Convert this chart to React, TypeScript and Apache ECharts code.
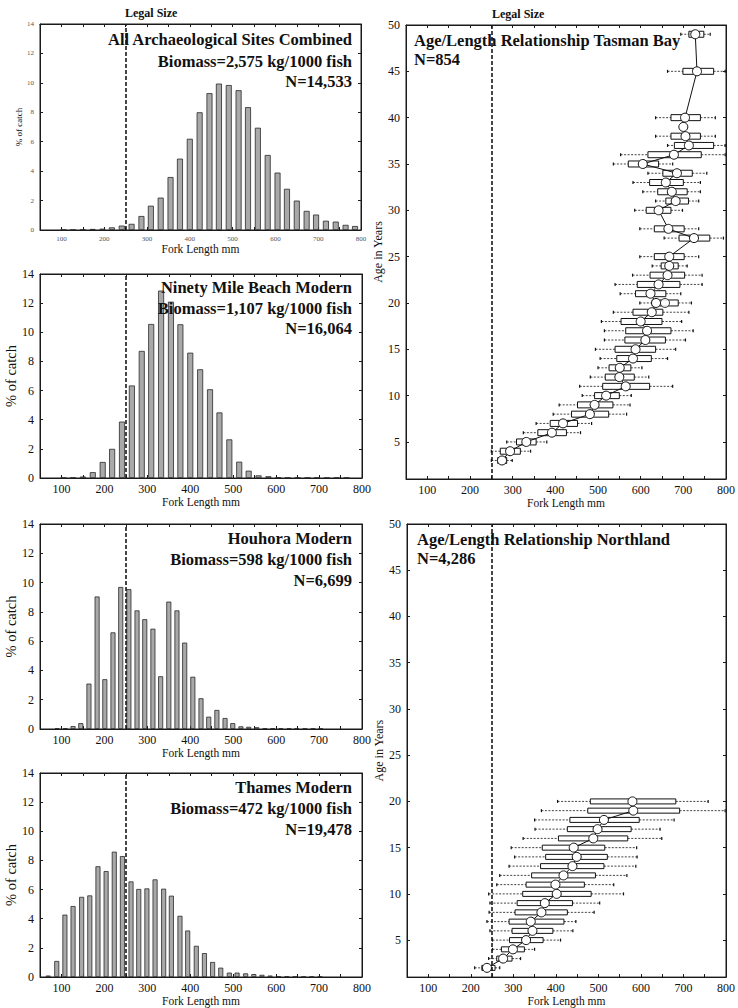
import React, { useEffect, useRef } from "react";
import * as echarts from "echarts";

const FONT = '"Liberation Serif", "Times New Roman", serif';

// ---------- axis tick / label values ----------
const xLabelValues = [100, 200, 300, 400, 500, 600, 700, 800];
const xTickValues = [50, 100, 150, 200, 250, 300, 350, 400, 450, 500, 550, 600, 650, 700, 750, 800];
const ageLabelValues = [5, 10, 15, 20, 25, 30, 35, 40, 45, 50];
const LEGAL_SIZE = 250;

// ---------- histogram data (fork length bin centre mm, % of catch) ----------
const archLengths = [105, 127, 150, 173, 196, 218, 241, 264, 287, 309, 332, 355, 377, 400, 423, 446, 468, 491, 514, 536, 559, 582, 605, 627, 650, 673, 695, 718, 741, 764, 786];
const archPct = [0.02, 0.02, 0.03, 0.07, 0.09, 0.18, 0.3, 0.42, 0.95, 1.65, 2.2, 3.6, 4.85, 6.2, 8.0, 9.3, 9.95, 9.85, 9.5, 8.35, 6.95, 5.1, 3.9, 2.8, 2.0, 1.3, 1.05, 0.63, 0.57, 0.35, 0.27];

const ninetyLengths = [105, 127, 150, 173, 196, 218, 241, 264, 287, 309, 332, 355, 377, 400, 423, 446, 468, 491, 514, 536, 559, 582, 605, 627, 650, 673, 695, 718, 741, 764];
const ninetyPct = [0.02, 0.03, 0.1, 0.4, 1.1, 2.0, 3.87, 6.35, 8.72, 10.57, 12.86, 12.1, 10.55, 8.6, 7.46, 6.09, 4.5, 2.65, 1.12, 0.5, 0.18, 0.12, 0.06, 0.03, 0.02, 0.02, 0.02, 0.02, 0.02, 0.02];

const houhoraLengths = [90, 109, 127, 145, 164, 183, 201, 220, 238, 257, 276, 294, 313, 331, 350, 369, 387, 406, 425, 443, 462, 481, 499, 518, 536, 555, 574, 592, 611, 630, 648, 667, 686, 704];
const houhoraPct = [0.05, 0.05, 0.2, 0.4, 3.1, 9.05, 3.4, 6.6, 9.7, 9.55, 8.1, 7.5, 6.85, 3.6, 8.7, 8.1, 5.9, 3.57, 2.1, 0.84, 1.3, 0.75, 0.4, 0.18, 0.15, 0.12, 0.06, 0.05, 0.05, 0.05, 0.04, 0.04, 0.04, 0.04];

const thamesLengths = [69, 89, 108, 127, 147, 166, 185, 204, 223, 242, 262, 280, 299, 318, 338, 356, 376, 394, 414, 433, 452, 471, 491, 509, 529, 548, 567, 586, 606, 625, 644, 664, 683, 702];
const thamesPct = [0.1, 1.1, 4.28, 4.87, 5.5, 5.6, 7.6, 7.27, 8.6, 8.3, 6.56, 6.04, 6.08, 6.7, 6.06, 5.58, 4.2, 3.19, 2.14, 1.64, 1.03, 0.64, 0.3, 0.3, 0.25, 0.2, 0.15, 0.1, 0.05, 0.04, 0.03, 0.03, 0.03, 0.03];

// ---------- age / length box data ----------
const tasmanAge = [3, 4, 5, 6, 7, 8, 9, 10, 11, 12, 13, 14, 15, 16, 17, 18, 19, 20, 21, 22, 23, 24, 25, 27, 28, 30, 31, 32, 33, 34, 35, 36, 37, 38, 39, 40, 45, 49];
const tasmanMedian = [275, 294, 332, 392, 418, 481, 492, 519, 565, 550, 551, 582, 588, 611, 615, 600, 626, 636, 623, 642, 663, 667, 667, 725, 665, 642, 682, 673, 659, 685, 605, 678, 713, 705, 700, 704, 732, 728];
const tasmanQ1 = [265, 271, 309, 359, 388, 438, 452, 492, 511, 517, 526, 544, 540, 563, 565, 554, 582, 627, 588, 592, 622, 648, 632, 690, 632, 613, 659, 640, 621, 652, 571, 617, 679, 671, null, 671, 699, 713];
const tasmanQ3 = [286, 318, 355, 426, 452, 525, 535, 550, 621, 585, 577, 625, 635, 658, 671, 650, 652, 688, 659, 692, 703, 688, 702, 762, 702, 671, 712, 709, 700, 721, 642, 742, 771, 740, null, 740, 771, 748];
const tasmanLow = [250, 250, 286, 325, 355, 395, 409, 463, 457, 482, 500, 505, 494, 515, 515, 508, 536, 598, 552, 540, 581, 627, 598, 655, 598, 586, 635, 605, 582, 617, 536, 553, 663, 635, null, 635, 663, 694];
const tasmanHigh = [299, 342, 380, 459, 485, 567, 575, 578, 675, 619, 603, 663, 682, 705, 723, 696, 713, 719, 694, 744, 744, 709, 736, 794, 736, 698, 736, 740, 740, 755, 675, 798, 798, 775, null, 775, 798, 763];
const tasmanExtraLength = [657];
const tasmanExtraAge = [20];

const northAge = [2, 3, 4, 5, 6, 7, 8, 9, 10, 11, 12, 13, 14, 15, 16, 17, 18, 19, 20];
const northMedian = [238, 276, 299, 330, 345, 341, 366, 374, 402, 399, 418, 439, 449, 442, 488, 498, 513, 582, 580];
const northQ1 = [226, 261, 272, 291, 297, 290, 304, 309, 322, 330, 343, 364, 376, 368, 406, 427, 433, 475, 481];
const northQ3 = [257, 297, 326, 370, 393, 419, 427, 439, 483, 467, 493, 513, 521, 515, 569, 577, 596, 691, 682];
const northLow = [209, 242, 251, 251, 245, 238, 243, 245, 242, 261, 268, 290, 303, 295, 323, 351, 350, 366, 404];
const northHigh = [268, 317, 350, 411, 440, 447, 490, 503, 559, 536, 567, 588, 591, 590, 649, 645, 678, 798, 758];

// ---------- texts ----------
const archTitle = ["All Archaeological Sites Combined", "Biomass=2,575 kg/1000 fish", "N=14,533"];
const ninetyTitle = ["Ninety Mile Beach Modern", "Biomass=1,107 kg/1000 fish", "N=16,064"];
const houhoraTitle = ["Houhora Modern", "Biomass=598 kg/1000 fish", "N=6,699"];
const thamesTitle = ["Thames Modern", "Biomass=472 kg/1000 fish", "N=19,478"];
const tasmanTitle = ["Age/Length Relationship Tasman Bay", "N=854"];
const northTitle = ["Age/Length Relationship Northland", "N=4,286"];

const histPanels = [
  { lengths: archLengths, pct: archPct, grid: { left: 40, top: 24, width: 321, height: 206 }, small: true, barWidth: 6, xNameGap: 12, yNameGap: 13, title: archTitle, titleX: 352, titleY: [39.4, 61.4, 81.4] },
  { lengths: ninetyLengths, pct: ninetyPct, grid: { left: 40, top: 274, width: 322, height: 204 }, small: false, barWidth: 6, xNameGap: 18, yNameGap: 20, title: ninetyTitle, titleX: 352, titleY: [287.4, 308.4, 328.4] },
  { lengths: houhoraLengths, pct: houhoraPct, grid: { left: 40, top: 524, width: 322, height: 205 }, small: false, barWidth: 5, xNameGap: 18, yNameGap: 20, title: houhoraTitle, titleX: 352, titleY: [538.4, 559.4, 580.4] },
  { lengths: thamesLengths, pct: thamesPct, grid: { left: 40, top: 773, width: 322, height: 205 }, small: false, barWidth: 5, xNameGap: 18, yNameGap: 20, title: thamesTitle, titleX: 352, titleY: [787.4, 808.4, 829.4] },
];

const agePanels = [
  { age: tasmanAge, median: tasmanMedian, q1: tasmanQ1, q3: tasmanQ3, low: tasmanLow, high: tasmanHigh, extraL: tasmanExtraLength, extraA: tasmanExtraAge, grid: { left: 406, top: 25, width: 325, height: 454 }, boxH: 6, title: tasmanTitle, titleX: 414, titleY: [40.4, 59.4] },
  { age: northAge, median: northMedian, q1: northQ1, q3: northQ3, low: northLow, high: northHigh, extraL: [], extraA: [], grid: { left: 407, top: 524, width: 325, height: 455 }, boxH: 5, title: northTitle, titleX: 417, titleY: [539.4, 558.4] },
];

const legalLabels = [
  { x: 125, y: 13.3 },
  { x: 492, y: 14 },
];

const LINE = "#1a1a1a";

function legalMarkLine() {
  return {
    silent: true,
    symbol: "none",
    animation: false,
    label: { show: false },
    lineStyle: { type: [4, 2], color: LINE, width: 1.6 },
    data: [{ xAxis: LEGAL_SIZE }],
  };
}

function buildOption() {
  const grid: any[] = [];
  const xAxis: any[] = [];
  const yAxis: any[] = [];
  const series: any[] = [];
  const graphic: any[] = [];

  const axisLine = { show: true, onZero: false, lineStyle: { color: LINE, width: 1 } };

  const addFrameAxes = (gi: number, fs: number, lblColor: string, xGap: number, yName: string, yGap: number, yNameSize: number, yMin: number, yMax: number, yInterval: number | null, yLabels: number[] | null, xNameSize: number) => {
    xAxis.push({
      gridIndex: gi, type: "value", min: 50, max: 800, position: "bottom",
      name: "Fork Length mm", nameLocation: "middle", nameGap: xGap,
      nameTextStyle: { fontFamily: FONT, fontSize: xNameSize, color: "#111" },
      axisLine, axisTick: { show: true, inside: true, length: 3, customValues: xTickValues, lineStyle: { color: LINE } },
      axisLabel: { customValues: xLabelValues, fontFamily: FONT, fontSize: fs, color: lblColor, margin: 5 },
      splitLine: { show: false },
    });
    xAxis.push({
      gridIndex: gi, type: "value", min: 50, max: 800, position: "top",
      axisLine, axisTick: { show: true, inside: true, length: 3, customValues: xTickValues, lineStyle: { color: LINE } },
      axisLabel: { show: false }, splitLine: { show: false },
    });
    const yBase: any = {
      gridIndex: gi, type: "value", min: yMin, max: yMax,
      axisLine, splitLine: { show: false },
    };
    if (yInterval) yBase.interval = yInterval;
    const tick: any = { show: true, inside: true, length: 3, lineStyle: { color: LINE } };
    const lbl: any = { fontFamily: FONT, fontSize: fs, color: lblColor, margin: 6 };
    if (yLabels) { tick.customValues = yLabels; lbl.customValues = yLabels; }
    yAxis.push({
      ...yBase, position: "left", name: yName, nameLocation: "middle", nameGap: yGap,
      nameTextStyle: { fontFamily: FONT, fontSize: yNameSize, color: "#111" },
      axisTick: tick, axisLabel: lbl,
    });
    yAxis.push({ ...yBase, position: "right", axisTick: tick, axisLabel: { show: false } });
  };

  histPanels.forEach((p, i) => {
    grid.push({ ...p.grid, show: true, borderColor: LINE, borderWidth: 1, backgroundColor: "#fff" });
    const fs = p.small ? 7 : 12;
    const col = p.small ? "#555" : "#111";
    addFrameAxes(i, fs, col, p.xNameGap, "% of catch", p.yNameGap, p.small ? 9 : 14.5, 0, 14, 2, null, 11.5);
    series.push({
      type: "bar", xAxisIndex: 2 * i, yAxisIndex: 2 * i,
      data: p.lengths.map((l, k) => [l, p.pct[k]]),
      barWidth: p.barWidth,
      itemStyle: { color: "#a9a9a9", borderColor: "#2a2a2a", borderWidth: 0.8 },
      markLine: legalMarkLine(),
      z: 2,
    });
    p.title.forEach((t, k) => {
      graphic.push({
        type: "text", x: p.titleX, y: p.titleY[k], z: 10,
        style: { text: t, fontFamily: FONT, fontWeight: "bold", fontSize: 16.5, fill: "#111", align: "right", verticalAlign: "middle", textAlign: "right", textVerticalAlign: "middle" },
      });
    });
  });

  agePanels.forEach((p, j) => {
    const gi = histPanels.length + j;
    grid.push({ ...p.grid, show: true, borderColor: LINE, borderWidth: 1, backgroundColor: "#fff" });
    addFrameAxes(gi, 12, "#111", 15, "Age in Years", 22, 12, 1, 50, null, ageLabelValues, 11.5);
    const boxData: any[] = [];
    p.age.forEach((a, k) => {
      if (p.q1[k] != null) boxData.push([a, p.q1[k], p.q3[k], p.low[k], p.high[k]]);
    });
    const bh = p.boxH;
    series.push({
      type: "custom", coordinateSystem: "cartesian2d", xAxisIndex: 2 * gi, yAxisIndex: 2 * gi,
      data: boxData, encode: { x: [1, 2, 3, 4], y: 0 }, z: 2,
      renderItem: (params: any, api: any) => {
        const age = api.value(0);
        const q1 = api.coord([api.value(1), age]);
        const q3 = api.coord([api.value(2), age]);
        const lo = api.coord([api.value(3), age]);
        const hi = api.coord([api.value(4), age]);
        const y = q1[1];
        const wStyle = { stroke: "#444", lineWidth: 1, lineDash: [2, 1.5] };
        const cStyle = { stroke: "#111", lineWidth: 1.2 };
        return {
          type: "group",
          children: [
            { type: "line", shape: { x1: lo[0], y1: y, x2: q1[0], y2: y }, style: wStyle },
            { type: "line", shape: { x1: q3[0], y1: y, x2: hi[0], y2: y }, style: wStyle },
            { type: "line", shape: { x1: lo[0], y1: y - 1.5, x2: lo[0], y2: y + 1.5 }, style: cStyle },
            { type: "line", shape: { x1: hi[0], y1: y - 1.5, x2: hi[0], y2: y + 1.5 }, style: cStyle },
            { type: "rect", shape: { x: q1[0], y: y - bh / 2, width: q3[0] - q1[0], height: bh }, style: { fill: "#fff", stroke: "#111", lineWidth: 1 } },
          ],
        };
      },
    });
    series.push({
      type: "line", xAxisIndex: 2 * gi, yAxisIndex: 2 * gi,
      data: p.age.map((a, k) => [p.median[k], a]),
      symbol: "circle", symbolSize: 9, showSymbol: true,
      lineStyle: { color: "#111", width: 1 },
      itemStyle: { color: "#fff", borderColor: "#111", borderWidth: 1 },
      markLine: legalMarkLine(),
      z: 3,
    });
    if (p.extraL.length) {
      series.push({
        type: "scatter", xAxisIndex: 2 * gi, yAxisIndex: 2 * gi,
        data: p.extraA.map((a, k) => [p.extraL[k], a]),
        symbol: "circle", symbolSize: 9,
        itemStyle: { color: "#fff", borderColor: "#111", borderWidth: 1 },
        z: 4,
      });
    }
    p.title.forEach((t, k) => {
      graphic.push({
        type: "text", x: p.titleX, y: p.titleY[k], z: 10,
        style: { text: t, fontFamily: FONT, fontWeight: "bold", fontSize: 16.5, fill: "#111", align: "left", verticalAlign: "middle", textAlign: "left", textVerticalAlign: "middle" },
      });
    });
  });

  legalLabels.forEach((l) => {
    graphic.push({
      type: "text", x: l.x, y: l.y, z: 10,
      style: { text: "Legal Size", fontFamily: FONT, fontWeight: "bold", fontSize: 12, fill: "#111", align: "left", verticalAlign: "middle", textAlign: "left", textVerticalAlign: "middle" },
    });
  });

  return {
    animation: false,
    backgroundColor: "#fff",
    grid, xAxis, yAxis, series, graphic,
  };
}

export default function App() {
  const ref = useRef<HTMLDivElement>(null);
  useEffect(() => {
    if (!ref.current) return;
    const chart = echarts.init(ref.current, null, { renderer: "svg" });
    chart.setOption(buildOption() as any);
    return () => chart.dispose();
  }, []);
  return (
    <div
      ref={ref}
      style={{ position: "absolute", left: 0, top: 0, width: 738, height: 1008, background: "#fff" }}
    />
  );
}
